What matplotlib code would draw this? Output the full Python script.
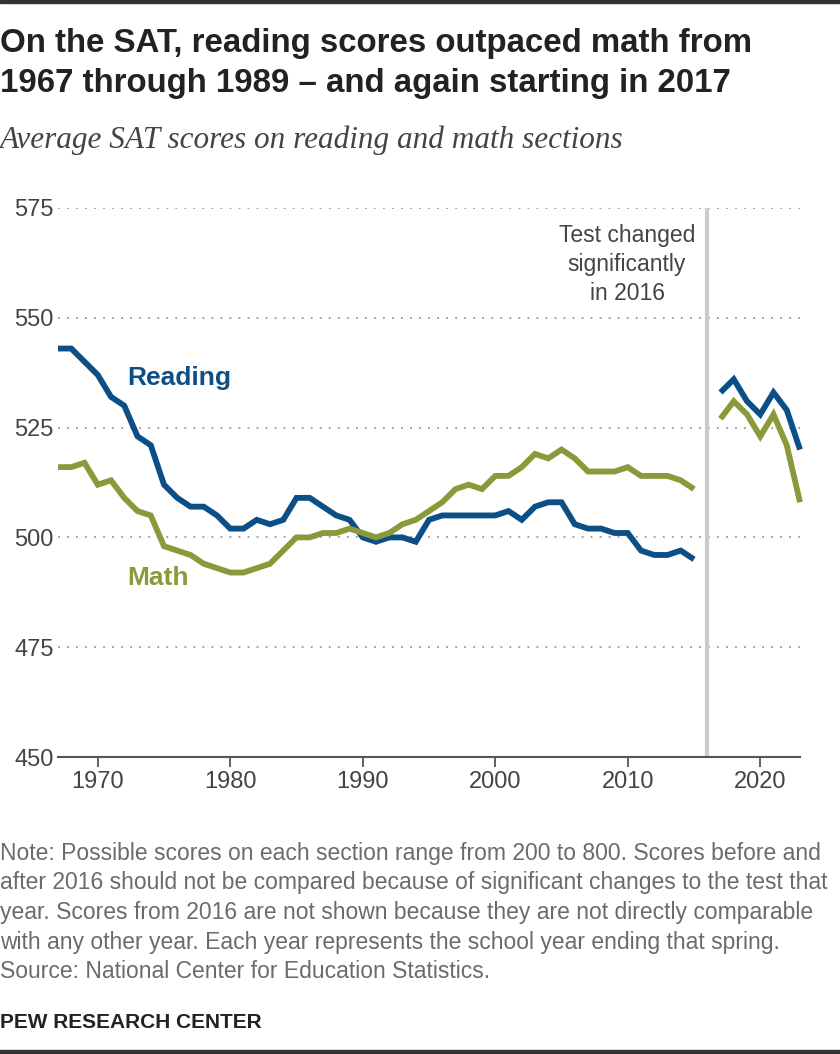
"""Average SAT reading and math scores, 1967-2023."""


# =============================================================================
# Imports
# =============================================================================
import matplotlib
matplotlib.use("Agg")
import matplotlib.pyplot as plt
from matplotlib.patches import Rectangle


# =============================================================================
# Data
# =============================================================================

# Before the 2016 redesign
years_old = list(range(1967, 2016))
reading_old = [543, 543, 540, 537, 532, 530, 523, 521, 512, 509,
               507, 507, 505, 502, 502, 504, 503, 504, 509, 509,
               507, 505, 504, 500, 499, 500, 500, 499, 504, 505,
               505, 505, 505, 505, 506, 504, 507, 508, 508, 503,
               502, 502, 501, 501, 497, 496, 496, 497, 495]
math_old = [516, 516, 517, 512, 513, 509, 506, 505, 498, 497,
            496, 494, 493, 492, 492, 493, 494, 497, 500, 500,
            501, 501, 502, 501, 500, 501, 503, 504, 506, 508,
            511, 512, 511, 514, 514, 516, 519, 518, 520, 518,
            515, 515, 515, 516, 514, 514, 514, 513, 511]

# After the redesign (2016 not shown)
years_new = list(range(2017, 2024))
reading_new = [533, 536, 531, 528, 533, 529, 520]
math_new = [527, 531, 528, 523, 528, 521, 508]

y_ticks = [450, 475, 500, 525, 550, 575]
x_ticks = [1970, 1980, 1990, 2000, 2010, 2020]

title_lines = ["On the SAT, reading scores outpaced math from",
               "1967 through 1989 \u2013 and again starting in 2017"]
subtitle = "Average SAT scores on reading and math sections"
note_lines = ["Note: Possible scores on each section range from 200 to 800. Scores before and",
              "after 2016 should not be compared because of significant changes to the test that",
              "year. Scores from 2016 are not shown because they are not directly comparable",
              "with any other year. Each year represents the school year ending that spring.",
              "Source: National Center for Education Statistics."]
callout_lines = ["Test changed", "significantly", "in 2016"]

# =============================================================================
# Style
# =============================================================================
BLUE = "#0c4f87"
OLIVE = "#8a9a3a"
GRAY = "#555555"

plt.rcParams["font.family"] = ["Liberation Sans", "DejaVu Sans"]

W, H = 840, 1054
fig = plt.figure(figsize=(W / 100, H / 100), dpi=100)


def fx(px):
    return px / W


def fy(px):
    return 1 - px / H


ax = fig.add_axes([fx(58), fy(757), fx(800 - 58), (757 - 208) / H])

# =============================================================================
# Plot
# =============================================================================
for yrs, vals, color in [(years_old, reading_old, BLUE), (years_new, reading_new, BLUE),
                         (years_old, math_old, OLIVE), (years_new, math_new, OLIVE)]:
    ax.plot(yrs, vals, color=color, lw=4.2, solid_joinstyle="miter",
            solid_capstyle="butt", clip_on=False, zorder=3)

ax.axvline(2016, color="#cccccc", lw=3, zorder=2)

ax.set_xlim(1967, 2023)
ax.set_ylim(450, 575)
ax.set_yticks(y_ticks)
ax.set_xticks(x_ticks)

for t in y_ticks[1:]:
    ax.axhline(t, color="#9a9a9a", lw=1.3, linestyle=(0, (1, 4)), zorder=1)

for s in ["top", "right", "left"]:
    ax.spines[s].set_visible(False)
ax.spines["bottom"].set_color(GRAY)
ax.spines["bottom"].set_linewidth(1.5)

ax.tick_params(axis="y", length=0, pad=3, labelsize=17, labelcolor="#444444")
ax.tick_params(axis="x", length=7, width=1.3, color=GRAY, pad=3,
               labelsize=17, labelcolor="#444444")

# Series labels
ax.text(1972.2, 536.3, "Reading", color=BLUE, fontsize=19, fontweight="bold",
        va="center", ha="left")
ax.text(1972.2, 490.8, "Math", color=OLIVE, fontsize=19, fontweight="bold",
        va="center", ha="left")

# Callout next to the 2016 line
for line, base in zip(callout_lines, [242, 271, 300]):
    fig.text(fx(627), fy(base), line, color="#444444", fontsize=16.5,
             ha="center", va="baseline")

# =============================================================================
# Titles and notes
# =============================================================================
for line, base in zip(title_lines, [52, 92]):
    fig.text(fx(0), fy(base), line, fontsize=23.8, fontweight="bold",
             color="#222222", va="baseline", ha="left")
fig.text(fx(0), fy(148), subtitle, fontsize=22.5, style="italic", color="#444444",
         family=["Liberation Serif", "DejaVu Serif"], va="baseline", ha="left")
for line, base in zip(note_lines, [860, 889.5, 919, 948.5, 978]):
    fig.text(fx(0), fy(base), line, fontsize=16.5, color="#6b6b6b",
             va="baseline", ha="left")
fig.text(fx(0), fy(1028), "PEW RESEARCH CENTER", fontsize=15, fontweight="bold",
         color="#222222", va="baseline", ha="left")

# Dark rules at top and bottom
fig.patches.append(Rectangle((0, fy(3)), 1, 3 / H, transform=fig.transFigure,
                             color="#333333", zorder=0))
fig.patches.append(Rectangle((0, 0), 1, 4 / H, transform=fig.transFigure,
                             color="#333333", zorder=0))

fig.savefig("out.png", dpi=100)
